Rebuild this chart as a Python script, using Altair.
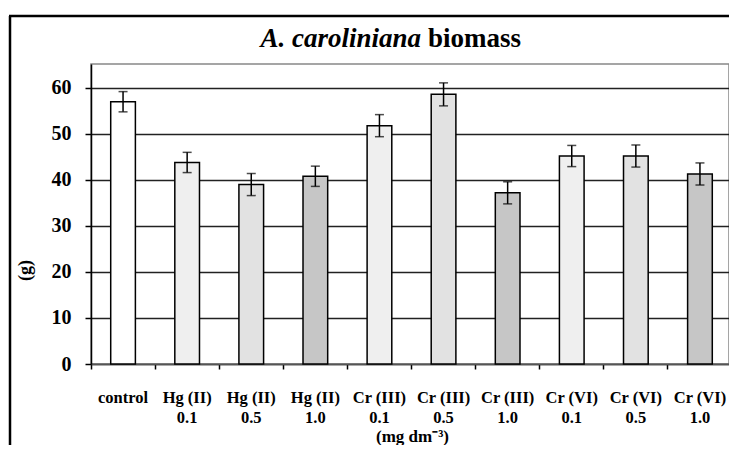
import altair as alt
import pandas as pd

categories = ["control", "Hg (II)|0.1", "Hg (II)|0.5", "Hg (II)|1.0",
              "Cr (III)|0.1", "Cr (III)|0.5", "Cr (III)|1.0",
              "Cr (VI)|0.1", "Cr (VI)|0.5", "Cr (VI)|1.0"]
doses = ["control", "0.1", "0.5", "1.0", "0.1", "0.5", "1.0", "0.1", "0.5", "1.0"]
means = [57.0, 43.8, 39.0, 40.8, 51.8, 58.6, 37.2, 45.2, 45.2, 41.3]
errs = [2.2, 2.2, 2.4, 2.2, 2.4, 2.5, 2.4, 2.3, 2.4, 2.4]
y_ticks = [0, 10, 20, 30, 40, 50, 60]

df = pd.DataFrame({"cat": categories, "dose": doses, "mean": means, "err": errs})
df["lo"] = df["mean"] - df["err"]
df["hi"] = df["mean"] + df["err"]

FONT = "Liberation Serif"

x = alt.X("cat:N", sort=categories,
          scale=alt.Scale(range=[0, 641], paddingInner=0, paddingOuter=0),
          axis=alt.Axis(title="(mg dm⁻³)", titleFont=FONT, titleFontSize=17,
                        titleFontWeight="bold", titleX=321, titleY=77,
                        titleBaseline="alphabetic", titleColor="black",
                        labelExpr="split(datum.label, '|')", labelAngle=0,
                        labelFont=FONT, labelFontSize=16.5, labelFontWeight="bold",
                        labelColor="black", labelLineHeight=20, labelPadding=20,
                        bandPosition=0, tickSize=5,
                        tickColor="black", tickWidth=1.5, domainColor="#555",
                        domainWidth=1.5, labelBaseline="top"))

y = alt.Y("mean:Q", scale=alt.Scale(domain=[0, 65.2], nice=False, zero=True),
          axis=alt.Axis(values=y_ticks, title="(g)", titleFont=FONT,
                        titleFontSize=18, titleFontWeight="bold", titleAngle=270,
                        titleX=-66, titleY=206, titleBaseline="middle",
                        titleAlign="center", titleColor="black",
                        labelFont=FONT, labelFontSize=20, labelFontWeight="bold",
                        labelColor="black", labelPadding=14, tickSize=6,
                        tickColor="black", tickWidth=1.5, domainColor="black",
                        domainWidth=1.5, grid=True, gridColor="#222",
                        gridWidth=1.5))

base = alt.Chart(df)

bars = base.mark_bar(stroke="black", strokeWidth=1.5,
                     width=alt.RelativeBandSize(0.385)).encode(
    x=x, y=y,
    fill=alt.Fill("dose:N", legend=None,
                  scale=alt.Scale(domain=["control", "0.1", "0.5", "1.0"],
                                  range=["white", "#efefef", "#e2e2e2", "#c6c6c6"])))

rules = base.mark_rule(color="black", strokeWidth=1.5).encode(
    x=alt.X("cat:N", sort=categories), y="lo:Q", y2="hi:Q")
caps_hi = base.mark_tick(color="black", size=9, thickness=1.5).encode(
    x=alt.X("cat:N", sort=categories), y="hi:Q")
caps_lo = base.mark_tick(color="black", size=9, thickness=1.5).encode(
    x=alt.X("cat:N", sort=categories), y="lo:Q")

t1 = alt.Chart(pd.DataFrame({"t": ["A. caroliniana"]})).mark_text(
    font=FONT, fontSize=27, fontWeight="bold", fontStyle="italic",
    align="right", baseline="alphabetic", color="black").encode(
    text="t:N", x=alt.value(330), y=alt.value(-17))
t2 = alt.Chart(pd.DataFrame({"t": ["biomass"]})).mark_text(
    font=FONT, fontSize=27, fontWeight="bold",
    align="left", baseline="alphabetic", color="black").encode(
    text="t:N", x=alt.value(337), y=alt.value(-17))

frame_left = alt.Chart(pd.DataFrame({"a": [0]})).mark_rule(
    color="black", strokeWidth=2.5).encode(
    x=alt.value(-81), y=alt.value(-48), y2=alt.value(400))
frame_top = alt.Chart(pd.DataFrame({"a": [0]})).mark_rule(
    color="black", strokeWidth=2.5).encode(
    x=alt.value(-82), x2=alt.value(660), y=alt.value(-48))

chart = alt.layer(bars, rules, caps_hi, caps_lo, t1, t2, frame_left, frame_top).properties(
    width=638, height=300,
    autosize=alt.AutoSizeParams(type="none"),
    padding={"left": 83, "top": 56, "right": 0, "bottom": 81},
    background="white",
).configure_view(stroke="#888", strokeWidth=1.5)

chart.save("out.html", embed_options={"renderer": "svg", "actions": False})
